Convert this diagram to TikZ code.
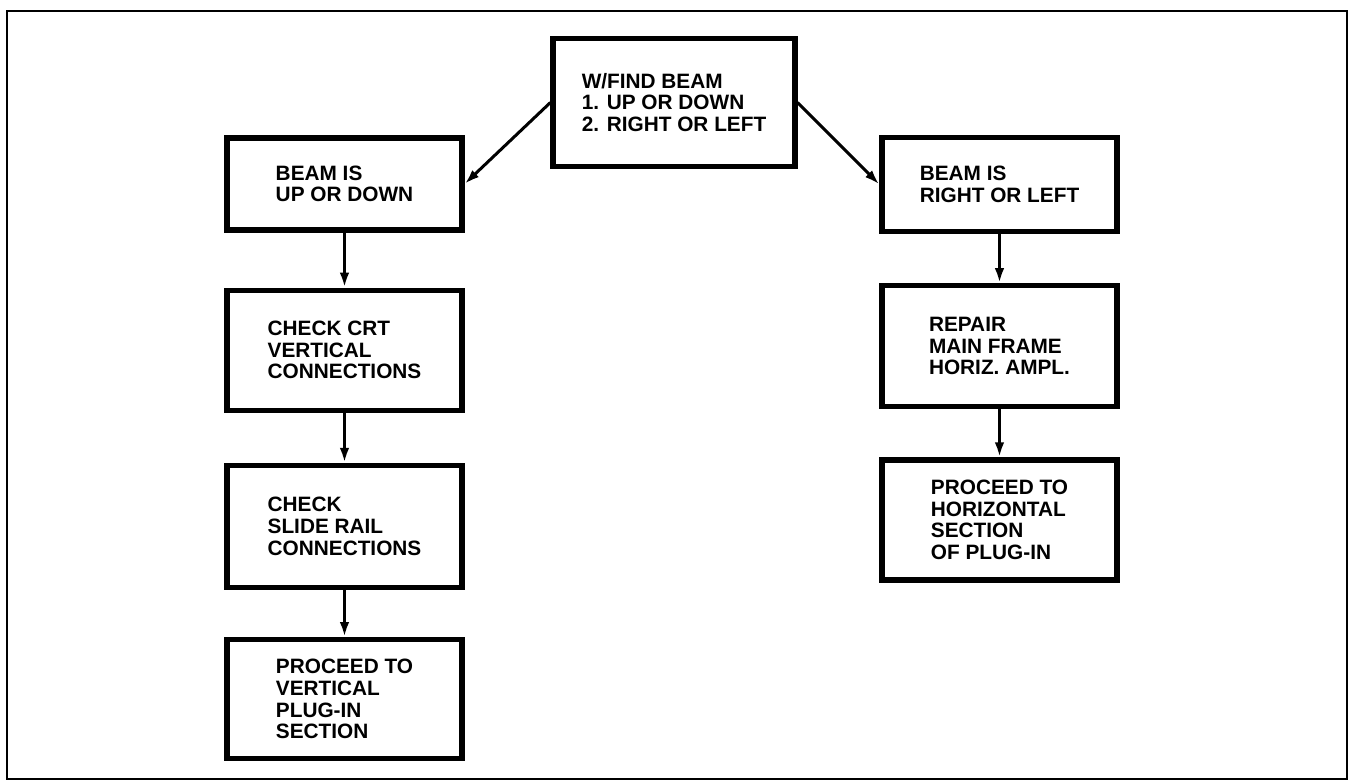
\documentclass[tikz,border=0pt]{standalone}
\usepackage{fontspec}
\setmainfont{Liberation Sans}
\usetikzlibrary{arrows.meta,positioning}

\begin{document}
\begin{tikzpicture}[x=0.5pt,y=-0.5pt,>={Latex[length=7.5pt,width=4.8pt]},node distance=25pt,
 box/.style={draw,line width=2.6pt,align=left,minimum width=117.5pt,inner sep=0pt,
   font=\fontsize{10.4}{10.8}\selectfont\bfseries},
 link/.style={->,line width=1.5pt}]
\useasboundingbox (0,0) rectangle (1351,781);
\draw[line width=1.2pt] (7,11) rectangle (1347,779);
% start
\node[box,minimum width=121pt,minimum height=64pt] (find) at (674,102.5) {W/FIND BEAM\\1. UP OR DOWN\\2. RIGHT OR LEFT};
% vertical branch
\node[box,minimum height=46pt] (updown) at (344.5,184) {BEAM IS\\UP OR DOWN};
\node[box,minimum height=60pt,below=27.5pt of updown] (crt) {CHECK CRT\\VERTICAL\\CONNECTIONS};
\node[box,minimum height=61pt,below=of crt] (rail) {CHECK\\SLIDE RAIL\\CONNECTIONS};
\node[box,minimum height=59.5pt,below=23.5pt of rail] (vert) {PROCEED TO\\VERTICAL\\PLUG-IN\\SECTION};
% horizontal branch
\node[box,minimum height=47pt] (rightleft) at (999.5,184.5) {BEAM IS\\RIGHT OR LEFT};
\node[box,minimum height=60.5pt,below=24.5pt of rightleft] (repair) {REPAIR\\MAIN FRAME\\HORIZ. AMPL.};
\node[box,minimum height=60pt,below=24pt of repair] (horiz) {PROCEED TO\\HORIZONTAL\\SECTION\\OF PLUG-IN};
\draw[link] (find.west) -- (updown.east); \draw[link] (find.east) -- (rightleft.west);
\draw[link] (updown) -- (crt); \draw[link] (crt) -- (rail); \draw[link] (rail) -- (vert);
\draw[link] (rightleft) -- (repair); \draw[link] (repair) -- (horiz);
\end{tikzpicture}
\end{document}
